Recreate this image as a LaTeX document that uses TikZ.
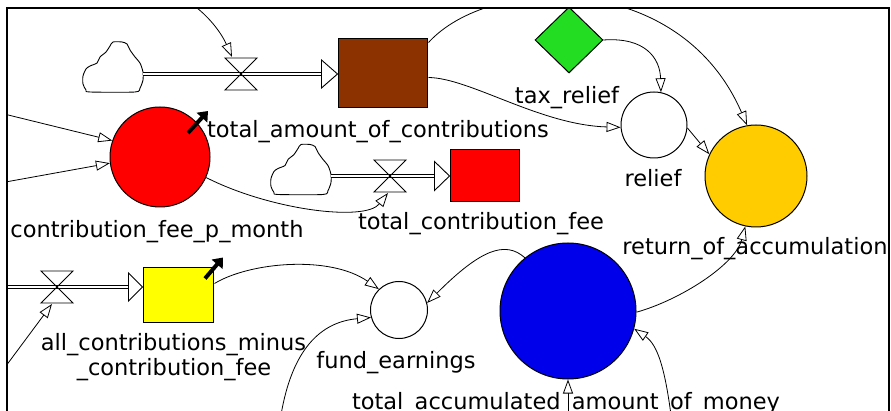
\documentclass[tikz,border=0pt]{standalone}
\usepackage{fontspec}
\setmainfont{DejaVu Sans}
\usetikzlibrary{arrows.meta,shapes.geometric,calc}
\definecolor{stockbrown}{RGB}{139,50,0}
\definecolor{fillred}{RGB}{255,0,0}
\definecolor{fillgold}{RGB}{255,204,0}
\definecolor{fillgreen}{RGB}{34,221,34}
\definecolor{fillblue}{RGB}{0,0,235}
\definecolor{fillyellow}{RGB}{255,255,0}
\begin{document}
\begin{tikzpicture}[x=1pt,y=-1pt,
  lbl/.style={font=\fontsize{22.5}{26}\selectfont, inner sep=0pt, anchor=base},
  stock/.style={draw, rectangle, line width=1pt, inner sep=0pt},
  aux/.style={draw, circle, line width=1pt, inner sep=0pt},
  link/.style={line width=0.8pt, -{Triangle[length=14pt,width=10pt,fill=white]}},
  pipe/.style={double, double distance=2.6pt, line width=0.9pt},
  pipehead/.style={line width=0.9pt, fill=white},
  ghost/.style={line width=4pt, -{Triangle[length=9pt,width=14pt]}},
  frameline/.style={line width=2pt},
  cloudbox/.style={minimum width=60pt, minimum height=50pt, inner sep=0pt},
  cloudpic/.pic={\draw[line width=0.9pt, fill=white] plot[smooth cycle, tension=0.45] coordinates {(-23,24.5) (22,24.5) (27,20.5) (30,12.5) (30,4.5) (27,-4.5) (22,-10.5) (17,-17.5) (14,-23.5) (9,-25.5) (0,-25.5) (-3,-21.5) (-7,-15.5) (-13,-10.5) (-16,-4.5) (-23,-1.5) (-27,1.5) (-30,8.5) (-30,16.5) (-27,22.5)};},
  valvepic/.pic={\draw[line width=0.9pt] (-16,-16) -- (16,-16) -- (0,0) -- cycle (-16,16) -- (16,16) -- (0,0) -- cycle;}
]
\useasboundingbox (0,0) rectangle (891,411);
\begin{scope}
\clip (7,8) rectangle (889,420);

% stocks
\node[stock, fill=stockbrown, minimum width=89pt, minimum height=69pt] (brown) at (382.5,73.5) {};
\node[stock, fill=fillred, minimum width=69pt, minimum height=52pt] (redbox) at (484.5,176) {};
\node[stock, fill=fillyellow, minimum width=70pt, minimum height=55pt] (ybox) at (178,295.5) {};

% auxiliaries
\node[aux, fill=fillred, minimum size=100pt] (redc) at (160,157) {};
\node[aux, fill=white, minimum size=66pt] (relief) at (654,125) {};
\node[aux, fill=fillgold, minimum size=102pt] (goldc) at (756,176) {};
\node[aux, fill=white, minimum size=57pt] (fund) at (399,310) {};
\node[aux, fill=fillblue, minimum size=136pt] (bluec) at (568,311) {};

% sources (clouds) and valves
\node[cloudbox] (cl1) at (113,67.5) {};
\node[cloudbox] (cl2) at (301,170) {};
\coordinate (v1) at (241,74);
\coordinate (v2) at (390,176);
\coordinate (v3) at (57,287);

% loose ends of links coming from outside the frame
\coordinate (srcA) at (186,0);
\coordinate (srcB) at (0,113);
\coordinate (srcC) at (0,183);
\coordinate (srcD) at (0,374);
\coordinate (srcE) at (281,415);
\coordinate (srcF) at (568,415);
\coordinate (srcG) at (671,415);
\coordinate (p3) at (0,287);

% link passing behind the constant
\draw[link] ([shift={(1pt,-4pt)}]brown.north east) .. controls (490,-25) and (680,-30) .. (goldc.100);
\node[draw, diamond, fill=fillgreen, line width=1pt, inner sep=0pt, minimum width=68pt, minimum height=66pt] (tax) at (569,40) {};

% links
\draw[link] (srcA) .. controls (205,12) and (220,30) .. ($(v1)+(-9,-17)$);
\draw[link] (tax.east) .. controls (645,37) and (660,58) .. (relief.78);
\draw[link] ([shift={(1pt,-4pt)}]brown.east) .. controls (470,78) and (540,125) .. (relief.184);
\draw[link] (relief.-5) -- (goldc.155);
\draw[link] (srcB) -- (redc.161);
\draw[link] (srcC) -- (redc.187);
\draw[link] (redc.-24) .. controls (270,210) and (365,222) .. ($(v2)+(-2,17)$);
\draw[link] ([shift={(1pt,12pt)}]ybox.east) .. controls (250,262) and (330,255) .. (fund.134);
\draw[link] (srcE) .. controls (292,350) and (320,322) .. (fund.195);
\draw[link] (bluec.129) .. controls (505,240) and (480,250) .. (fund.14);
\draw[link] (bluec.-1) .. controls (680,300) and (735,265) .. (goldc.258);
\draw[link] (srcG) .. controls (665,370) and (658,345) .. (bluec.-15);
\draw[link] (srcF) -- (bluec.south);
\draw[link] (srcD) -- ($(v3)+(-5,17)$);

% flows
\pic at (cl1.center) {cloudpic};
\pic at (cl2.center) {cloudpic};
\coordinate (h1) at (brown.west |- v1);
\coordinate (h2) at (redbox.west |- v2);
\coordinate (h3) at (ybox.west |- v3);
\draw[pipe] (cl1.east |- v1) -- ($(h1)+(-16,0)$);
\draw[pipehead] ($(h1)+(-16,-14)$) -- (h1) -- ($(h1)+(-16,14)$) -- cycle;
\draw[pipe] (cl2.east |- v2) -- ($(h2)+(-15,0)$);
\draw[pipehead] ($(h2)+(-15,-14.5)$) -- (h2) -- ($(h2)+(-15,14.5)$) -- cycle;
\draw[pipe] (p3) -- ($(h3)+(-14,0)$);
\draw[pipehead] ($(h3)+(-14,-14)$) -- (h3) -- ($(h3)+(-14,14)$) -- cycle;
\pic at (v1) {valvepic};
\pic at (v2) {valvepic};
\pic at (v3) {valvepic};

% shortcut markers
\draw[ghost] ($(redc)+(28,-24)$) -- ($(redc)+(48,-46)$);
\draw[ghost] ($(ybox)+(27,-17)$) -- ($(ybox)+(45,-38)$);

% labels
\node[lbl] (lbrown) at (378,138) {total\_amount\_of\_contributions};
\node[lbl] (ltax) at (567,104) {tax\_relief};
\node[lbl] (lrelief) at (653,187) {relief};
\node[lbl] (lgold) at (755,255) {return\_of\_accumulation};
\node[lbl] (lredbox) at (481,230) {total\_contribution\_fee};
\node[lbl] (lredc) at (157,238) {contribution\_fee\_p\_month};
\node[lbl] (lybox1) at (173.5,350) {all\_contributions\_minus};
\node[lbl] (lybox2) at (174,375) {\_contribution\_fee};
\node[lbl] (lfund) at (396,368) {fund\_earnings};
\node[lbl] (lblue) at (566,409) {total\_accumulated\_amount\_of\_money};
\end{scope}
\draw[frameline] (7,420) -- (7,8) -- (889,8) -- (889,420);
\end{tikzpicture}
\end{document}
